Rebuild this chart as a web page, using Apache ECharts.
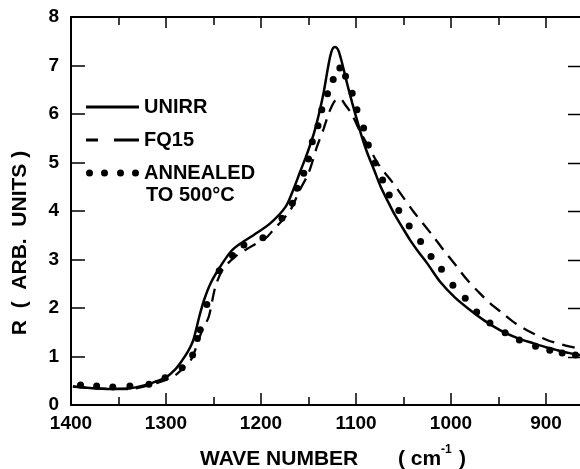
<!DOCTYPE html>
<html>
<head>
<meta charset="utf-8">
<script src="https://cdn.jsdelivr.net/npm/echarts@6/dist/echarts.min.js"></script>
<style>
  html, body {margin: 0; padding: 0; background: #fff;}
  #chart {width: 580px; height: 469px;}
</style>
</head>
<body>
<div id="chart"></div>
<script>
// reflectance vs wave number
var unirr = [
    [1398, 0.38], [1380, 0.35], [1360, 0.33], [1340, 0.34], [1320, 0.42], [1310, 0.49],
    [1300, 0.57], [1290, 0.74], [1283, 0.92], [1277, 1.10], [1272, 1.30], [1269, 1.50],
    [1265, 1.82], [1260, 2.16], [1253, 2.51], [1243, 2.85], [1231, 3.18], [1220, 3.35],
    [1208, 3.50], [1190, 3.75], [1174, 4.09], [1166, 4.44], [1159, 4.80], [1153, 5.10],
    [1149, 5.32], [1144, 5.62], [1139, 6.00], [1134, 6.45], [1130, 6.90], [1127, 7.20],
    [1124.5, 7.35], [1122, 7.38], [1119, 7.33], [1116, 7.15], [1113, 6.92], [1109, 6.60],
    [1104, 6.23], [1099, 5.88], [1094, 5.54], [1088, 5.19], [1081, 4.85], [1074, 4.50],
    [1067, 4.22], [1060, 3.95], [1053, 3.72], [1043, 3.40], [1034, 3.15], [1025, 2.92],
    [1011, 2.53], [996, 2.22], [980, 1.96], [964, 1.73], [948, 1.54], [930, 1.38],
    [913, 1.27], [900, 1.19], [888, 1.13], [875, 1.07], [862, 1.02]
];
var fq15 = [
    [1398, 0.38], [1370, 0.34], [1340, 0.33], [1310, 0.45], [1290, 0.62], [1280, 0.80],
    [1274, 0.92], [1268, 1.20], [1262, 1.54], [1255, 1.82], [1248, 2.44], [1240, 2.80],
    [1227, 3.06], [1212, 3.25], [1195, 3.44], [1187, 3.61], [1178, 3.80], [1169, 4.02],
    [1159, 4.44], [1150, 4.78], [1141, 5.33], [1134, 5.70], [1128, 6.05], [1122, 6.28],
    [1117, 6.32], [1111, 6.18], [1104, 5.98], [1096, 5.65], [1086, 5.30], [1076, 4.95],
    [1062, 4.60], [1051, 4.30], [1040, 4.00], [1029, 3.73], [1018, 3.46], [1008, 3.20],
    [995, 2.88], [983, 2.58], [971, 2.33], [959, 2.10], [945, 1.88], [932, 1.68],
    [916, 1.50], [899, 1.34], [880, 1.23], [862, 1.15]
];
var annealed = [
    [1390, 0.41], [1373, 0.39], [1356, 0.37], [1338, 0.39], [1318, 0.43], [1301, 0.56],
    [1283, 0.77], [1272, 1.03], [1267, 1.37], [1264, 1.55], [1257, 2.07], [1244, 2.77],
    [1230, 3.08], [1218, 3.30], [1198, 3.45], [1178, 3.85], [1167, 4.16], [1162, 4.47],
    [1155, 4.78], [1150, 5.07], [1146, 5.43], [1140, 5.76], [1136, 6.09], [1130, 6.42],
    [1124, 6.71], [1117, 6.95], [1111, 6.78], [1104, 6.43], [1099, 6.09], [1092, 5.71],
    [1087, 5.36], [1080, 4.99], [1072, 4.64], [1065, 4.33], [1055, 4.01], [1044, 3.69],
    [1032, 3.37], [1021, 3.06], [1010, 2.80], [998, 2.47], [985, 2.20], [973, 1.92],
    [959, 1.69], [943, 1.49], [928, 1.34], [911, 1.21], [896, 1.13], [883, 1.07], [869, 1.03]
];
// the right-hand frame is cut off just past the picture; only its ticks show
var rightTicks = [1, 2, 3, 4, 5, 6, 7];

var font = '"Liberation Sans", Arial, sans-serif';
var gridTop = 17, gridHeight = 388, gridLeft = 71, frameRight = 583, yMax = 8;
// legend icons: solid bar, two dashes, four dots
var solidIcon = 'path://M0,0H53V3H0Z';
var dashIcon = 'path://M0,0H12V3H0Z M28,0H53V3H28Z';
var dotIcon = 'path://M0,3.5a3.5,3.5 0 1,0 7,0a3.5,3.5 0 1,0 -7,0' +
    'M15,3.5a3.5,3.5 0 1,0 7,0a3.5,3.5 0 1,0 -7,0' +
    'M31,3.5a3.5,3.5 0 1,0 7,0a3.5,3.5 0 1,0 -7,0' +
    'M46,3.5a3.5,3.5 0 1,0 7,0a3.5,3.5 0 1,0 -7,0';

var chart = echarts.init(document.getElementById('chart'), null, {renderer: 'canvas'});
var legendText = {color: '#000', fontSize: 20, fontWeight: 'bold', fontFamily: font};
var tickStyle = {color: '#000', width: 1.5};

var graphics = [
    {type: 'text', x: 20, y: 243, rotation: Math.PI / 2,
        style: {text: 'R  (  ARB.  UNITS )', fill: '#000', font: 'bold 21px ' + font,
            align: 'center', verticalAlign: 'middle'}},
    {type: 'text', x: 146, y: 195,
        style: {text: 'TO 500°C', fill: '#000', font: 'bold 20px ' + font,
            align: 'left', verticalAlign: 'middle'}},
    {type: 'text', x: 200, y: 459,
        style: {text: 'WAVE NUMBER', fill: '#000', font: 'bold 21px ' + font,
            align: 'left', verticalAlign: 'middle'}},
    {type: 'text', x: 398, y: 459,
        style: {text: '( cm', fill: '#000', font: 'bold 21px ' + font,
            align: 'left', verticalAlign: 'middle'}},
    {type: 'text', x: 441, y: 450,
        style: {text: '-1', fill: '#000', font: 'bold 12px ' + font,
            align: 'left', verticalAlign: 'middle'}},
    {type: 'text', x: 459, y: 459,
        style: {text: ')', fill: '#000', font: 'bold 21px ' + font,
            align: 'left', verticalAlign: 'middle'}}
];
// ticks of the right frame
rightTicks.forEach(function(v) {
    var y = Math.round(gridTop + gridHeight * (1 - v / yMax)) + 0.5;
    graphics.push({type: 'line', z: 10,
        shape: {x1: frameRight - 15, y1: y, x2: frameRight, y2: y},
        style: {stroke: '#000', lineWidth: 1.5}});
});

chart.setOption({
    animation: false,
    backgroundColor: '#fff',
    grid: {left: gridLeft, top: gridTop, width: 570, height: gridHeight,
        containLabel: false, outerBoundsMode: 'none'},
    legend: [
        {data: ['UNIRR'], left: 86, top: 97, padding: 0, itemWidth: 53, itemHeight: 3, itemGap: 0,
            icon: solidIcon, textStyle: legendText},
        {data: ['FQ15'], left: 86, top: 130, padding: 0, itemWidth: 53, itemHeight: 3, itemGap: 0,
            icon: dashIcon, textStyle: legendText},
        {data: ['ANNEALED TO 500°C'], left: 86, top: 163, padding: 0, itemWidth: 53, itemHeight: 7,
            icon: dotIcon, itemGap: 0,
            formatter: function() { return 'ANNEALED'; },
            textStyle: legendText}
    ],
    xAxis: [{
        type: 'value', position: 'bottom', inverse: true, min: 800, max: 1400, interval: 100,
        axisLine: {onZero: false, lineStyle: {color: '#000', width: 2}},
        axisTick: {inside: true, length: 12, lineStyle: tickStyle},
        minorTick: {show: true, splitNumber: 2, length: 8, lineStyle: tickStyle},
        axisLabel: {margin: 9, color: '#000', fontSize: 19, fontWeight: 'bold', fontFamily: font,
            formatter: function(v) { return v < 900 ? '' : v; }},
        splitLine: {show: false}, minorSplitLine: {show: false}
    }, {
        type: 'value', position: 'top', inverse: true, min: 800, max: 1400, interval: 100,
        axisLine: {onZero: false, lineStyle: {color: '#000', width: 2}},
        axisTick: {inside: true, length: 11, lineStyle: tickStyle},
        minorTick: {show: true, splitNumber: 2, length: 8, lineStyle: tickStyle},
        axisLabel: {show: false}, splitLine: {show: false}
    }],
    yAxis: {
        type: 'value', position: 'left', min: 0, max: yMax, interval: 1,
        axisLine: {show: true, onZero: false, lineStyle: {color: '#000', width: 2}},
        axisTick: {show: true, inside: true, length: 14, lineStyle: tickStyle},
        axisLabel: {margin: 12, color: '#000', fontSize: 19, fontWeight: 'bold', fontFamily: font},
        splitLine: {show: false}
    },
    graphic: graphics,
    series: [{
        name: 'UNIRR', type: 'line', data: unirr, smooth: 0.3, symbol: 'none',
        lineStyle: {color: '#000', width: 2.5}, itemStyle: {color: '#000'}
    }, {
        name: 'FQ15', type: 'line', data: fq15, smooth: 0.3, symbol: 'none',
        lineStyle: {color: '#000', width: 2.3, type: [13, 8]}, itemStyle: {color: '#000'}
    }, {
        name: 'ANNEALED TO 500°C', type: 'scatter', data: annealed, symbolSize: 7,
        itemStyle: {color: '#000', opacity: 1}
    }]
});
</script>
</body>
</html>
